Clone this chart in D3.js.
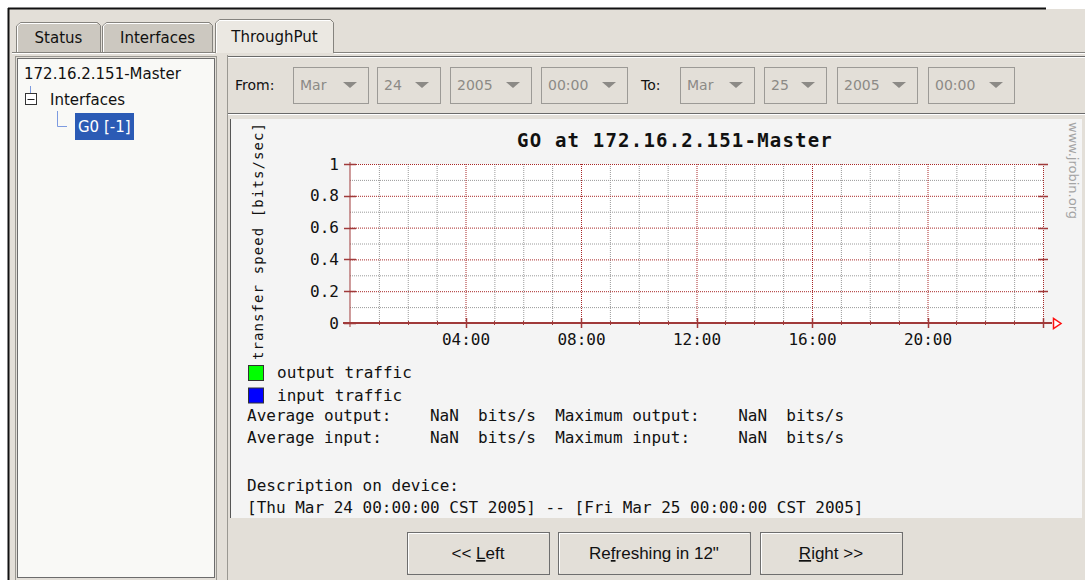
<!DOCTYPE html>
<html>
<head>
<meta charset="utf-8">
<script src="https://cdn.jsdelivr.net/npm/d3@7"></script>
<style>
  body { margin: 0; background: #fff; }
</style>
</head>
<body>
<div id="chart"></div>
<script>
// ---- data ----
var tabNames = ['Status', 'Interfaces', 'ThroughPut'];
var treeRoot = '172.16.2.151-Master';
var treeGroup = 'Interfaces';
var treeLeaf = 'G0 [-1]';
var fromFields = ['Mar', '24', '2005', '00:00'];
var toFields = ['Mar', '25', '2005', '00:00'];
var timeStart = new Date(2005, 2, 24, 0, 0);
var timeEnd = new Date(2005, 2, 25, 0, 0);
var xTickHours = [4, 8, 12, 16, 20];
var yTicks = [0, 0.2, 0.4, 0.6, 0.8, 1];
var chartTitle = 'GO at 172.16.2.151-Master';
var yLabel = 'transfer speed [bits/sec]';
// no samples were collected, every value is NaN
var outputTraffic = [];
var inputTraffic = [];
var legendNames = ['output traffic', 'input traffic'];
var legendColors = ['#00ff00', '#0000ff'];
var buttonLabels = [['<< ', 'L', 'eft'], ['Re', 'f', 'reshing in 12"'], ['', 'R', 'ight >>']];

var W = 1085, H = 580;
var bg = '#e3dfd8';
var mono = "'DejaVu Sans Mono', monospace";
var sans = "'DejaVu Sans', sans-serif";

var svg = d3.select('#chart')
    .append('svg')
    .attr('width', W)
    .attr('height', H)
    .style('display', 'block');

svg.append('rect').attr('width', W).attr('height', H).attr('fill', '#fff');
svg.append('rect').attr('x', 9).attr('y', 9).attr('width', W - 9).attr('height', H - 9).attr('fill', bg);

// window frame
svg.append('line').attr('x1', 8).attr('y1', 8.5).attr('x2', 1046).attr('y2', 8.5)
    .attr('stroke', '#111').attr('stroke-width', 2);
svg.append('line').attr('x1', 8.5).attr('y1', 8).attr('x2', 8.5).attr('y2', H)
    .attr('stroke', '#111').attr('stroke-width', 2);

// tabs
var tabX = [16, 102, 215], tabW = [85, 111, 119];
var selected = 2;
var tabs = svg.append('g');
tabNames.forEach(function(name, i) {
    var x0 = tabX[i], x1 = tabX[i] + tabW[i];
    var top = i === selected ? 19 : 22;
    var bottom = 53;
    tabs.append('path')
        .attr('d', 'M' + (x0 + 0.5) + ',' + bottom + 'L' + (x0 + 0.5) + ',' + (top + 4) +
            'L' + (x0 + 4.5) + ',' + (top + 0.5) + 'L' + (x1 - 3.5) + ',' + (top + 0.5) +
            'L' + (x1 - 0.5) + ',' + (top + 3.5) + 'L' + (x1 - 0.5) + ',' + bottom)
        .attr('fill', i === selected ? '#ebe8e2' : '#ccc8c0')
        .attr('stroke', '#85837e');
    tabs.append('path')
        .attr('d', 'M' + (x0 + 1.5) + ',' + bottom + 'L' + (x0 + 1.5) + ',' + (top + 4) +
            'L' + (x0 + 4.5) + ',' + (top + 1.5) + 'L' + (x1 - 4) + ',' + (top + 1.5))
        .attr('fill', 'none')
        .attr('stroke', '#fff');
    tabs.append('text')
        .attr('x', (x0 + x1) / 2)
        .attr('y', i === selected ? 42 : 43)
        .attr('text-anchor', 'middle')
        .attr('font-family', sans)
        .attr('font-size', 15)
        .attr('fill', '#111')
        .text(name);
});
svg.append('line').attr('x1', 12).attr('y1', 52.5).attr('x2', 215).attr('y2', 52.5).attr('stroke', '#85837e');
svg.append('line').attr('x1', 334).attr('y1', 52.5).attr('x2', W).attr('y2', 52.5).attr('stroke', '#85837e');
svg.append('line').attr('x1', 12).attr('y1', 53.5).attr('x2', 215).attr('y2', 53.5).attr('stroke', '#fff');
svg.append('line').attr('x1', 334).attr('y1', 53.5).attr('x2', W).attr('y2', 53.5).attr('stroke', '#fff');

// tree panel
var tree = svg.append('g');
tree.append('rect').attr('x', 15.5).attr('y', 56.5).attr('width', 201).attr('height', 540)
    .attr('fill', 'none').attr('stroke', '#9a9892');
tree.append('rect').attr('x', 17.5).attr('y', 58.5).attr('width', 197).attr('height', 519)
    .attr('fill', '#f9f9f6').attr('stroke', '#6c6c6c');
tree.append('text').attr('x', 24).attr('y', 79).attr('font-family', sans).attr('font-size', 15)
    .attr('fill', '#111').text(treeRoot);
tree.append('line').attr('x1', 30.5).attr('y1', 86).attr('x2', 30.5).attr('y2', 93)
    .attr('stroke', '#7d9be0');
tree.append('rect').attr('x', 25.5).attr('y', 93.5).attr('width', 11).attr('height', 11)
    .attr('fill', '#fff').attr('stroke', '#333');
tree.append('line').attr('x1', 27.5).attr('y1', 99.5).attr('x2', 34.5).attr('y2', 99.5)
    .attr('stroke', '#222');
tree.append('text').attr('x', 50).attr('y', 105).attr('font-family', sans).attr('font-size', 15)
    .attr('fill', '#111').text(treeGroup);
tree.append('path').attr('d', 'M57.5,111V126.5H67').attr('fill', 'none').attr('stroke', '#7d9be0');
tree.append('rect').attr('x', 75).attr('y', 113).attr('width', 59).attr('height', 27)
    .attr('fill', '#2b5bb5');
tree.append('text').attr('x', 78).attr('y', 132).attr('font-family', sans).attr('font-size', 15)
    .attr('fill', '#fff').text(treeLeaf);

// right side: date bar
svg.append('line').attr('x1', 227.5).attr('y1', 55).attr('x2', 227.5).attr('y2', H).attr('stroke', '#9a9892');
svg.append('line').attr('x1', 228).attr('y1', 56.5).attr('x2', W).attr('y2', 56.5).attr('stroke', '#6a6a6a');
svg.append('line').attr('x1', 228).attr('y1', 57.5).attr('x2', W).attr('y2', 57.5).attr('stroke', '#fff');
svg.append('line').attr('x1', 228).attr('y1', 113.5).attr('x2', W).attr('y2', 113.5).attr('stroke', '#6a6a6a');
svg.append('line').attr('x1', 228).attr('y1', 114.5).attr('x2', W).attr('y2', 114.5).attr('stroke', '#fff');

var dateBar = svg.append('g').attr('font-family', sans).attr('font-size', 14);
dateBar.append('text').attr('x', 235).attr('y', 90).attr('fill', '#111').text('From:');
dateBar.append('text').attr('x', 641).attr('y', 90).attr('fill', '#111').text('To:');

var fromBoxes = [[293, 368], [377, 440], [450, 531], [541, 627]];
var toBoxes = [[680, 754], [764, 826], [837, 917], [928, 1014]];
function drawCombos(fields, boxes) {
    fields.forEach(function(f, i) {
        var b = boxes[i];
        dateBar.append('rect').attr('x', b[0] + 0.5).attr('y', 67.5).attr('width', b[1] - b[0])
            .attr('height', 36).attr('fill', bg).attr('stroke', '#9c9a96');
        dateBar.append('text').attr('x', b[0] + 7).attr('y', 90).attr('fill', '#8c8a86').text(f);
        var cx = b[1] - 18;
        dateBar.append('path').attr('d', 'M' + (cx - 7) + ',82L' + (cx + 7) + ',82L' + cx + ',88Z')
            .attr('fill', '#8c8a86');
    });
}
drawCombos(fromFields, fromBoxes);
drawCombos(toFields, toBoxes);

// chart panel
svg.append('rect').attr('x', 230).attr('y', 119).attr('width', 852).attr('height', 399).attr('fill', '#f4f4f4');
svg.append('line').attr('x1', 230.5).attr('y1', 119).attr('x2', 230.5).attr('y2', 518).attr('stroke', '#555');

var x = d3.scaleTime().domain([timeStart, timeEnd]).range([350, 1043]);
var y = d3.scaleLinear().domain([0, 1]).range([323, 164]);
var plotH = y(0) - y(1);

var chart = svg.append('g');
chart.append('rect').attr('x', x.range()[0]).attr('y', y(1)).attr('width', x.range()[1] - x.range()[0])
    .attr('height', plotH).attr('fill', '#fff');

var isMajorHour = function(d) { return d.getHours() % 4 === 0; };
var hours = x.ticks(d3.timeHour.every(1));
var minorHours = hours.filter(function(d) { return !isMajorHour(d); });
var majorHours = hours.filter(function(d) { return isMajorHour(d) && +d !== +timeStart; });
var minorY = d3.range(1, 10, 2).map(function(i) { return i / 10; });
var majorY = yTicks.filter(function(d) { return d > 0; });

function grid(g, color) {
    g.select('.domain').remove();
    g.selectAll('line').attr('stroke', color).attr('stroke-dasharray', '1,1');
}

chart.append('g')
    .attr('transform', 'translate(0,' + y(0) + ')')
    .call(d3.axisBottom(x).tickValues(minorHours).tickSize(-plotH).tickFormat(''))
    .call(grid, '#9a9a9a');
chart.append('g')
    .attr('transform', 'translate(' + x.range()[0] + ',0)')
    .call(d3.axisLeft(y).tickValues(minorY).tickSize(-(x.range()[1] - x.range()[0])).tickFormat(''))
    .call(grid, '#9a9a9a');
chart.append('g')
    .attr('transform', 'translate(0,' + y(0) + ')')
    .call(d3.axisBottom(x).tickValues(majorHours).tickSize(-plotH).tickFormat(''))
    .call(grid, '#a82828');
chart.append('g')
    .attr('transform', 'translate(' + x.range()[0] + ',0)')
    .call(d3.axisLeft(y).tickValues(majorY).tickSize(-(x.range()[1] - x.range()[0])).tickFormat(''))
    .call(grid, '#a82828');

// series (empty: NaN everywhere)
var line = d3.line()
    .defined(function(d) { return !isNaN(d.value); })
    .x(function(d) { return x(d.time); })
    .y(function(d) { return y(d.value); });
[outputTraffic, inputTraffic].forEach(function(series, i) {
    chart.append('path').datum(series).attr('d', line).attr('fill', 'none')
        .attr('stroke', legendColors[i]).attr('stroke-width', 1);
});

// axes
var axisColor = '#a03a3a';
chart.append('line').attr('x1', 343).attr('y1', y(0)).attr('x2', 1052).attr('y2', y(0))
    .attr('stroke', axisColor).attr('stroke-width', 2);
chart.append('line').attr('x1', x.range()[0]).attr('y1', y(1) - 2).attr('x2', x.range()[0]).attr('y2', y(0) + 4)
    .attr('stroke', axisColor);
chart.append('path').attr('d', 'M1053.5,318.5V328.5L1061,323.5Z')
    .attr('fill', '#fff').attr('stroke', '#ff1010').attr('stroke-width', 1.5);

// cross ticks on the axes
chart.append('g').selectAll('line')
    .data(majorHours)
    .join('line')
    .attr('x1', function(d) { return Math.round(x(d)) + 0.5; })
    .attr('x2', function(d) { return Math.round(x(d)) + 0.5; })
    .attr('y1', y(0) - 5).attr('y2', y(0) + 5)
    .attr('stroke', axisColor).attr('stroke-width', 1.5);
chart.append('g').selectAll('line')
    .data(minorHours)
    .join('line')
    .attr('x1', function(d) { return Math.round(x(d)) + 0.5; })
    .attr('x2', function(d) { return Math.round(x(d)) + 0.5; })
    .attr('y1', y(0) - 2).attr('y2', y(0) + 2)
    .attr('stroke', axisColor);
chart.append('g').selectAll('line')
    .data(yTicks)
    .join('line')
    .attr('x1', 344).attr('x2', 356)
    .attr('y1', function(d) { return Math.round(y(d)) + 0.5; })
    .attr('y2', function(d) { return Math.round(y(d)) + 0.5; })
    .attr('stroke', axisColor).attr('stroke-width', 1.5);
chart.append('g').selectAll('line')
    .data(majorY)
    .join('line')
    .attr('x1', x.range()[1] - 5).attr('x2', x.range()[1] + 5)
    .attr('y1', function(d) { return Math.round(y(d)) + 0.5; })
    .attr('y2', function(d) { return Math.round(y(d)) + 0.5; })
    .attr('stroke', axisColor).attr('stroke-width', 1.5);

// tick labels
var xLabels = chart.append('g')
    .attr('transform', 'translate(0,' + y(0) + ')')
    .call(d3.axisBottom(x)
        .tickValues(xTickHours.map(function(h) { return d3.timeHour.offset(timeStart, h); }))
        .tickFormat(d3.timeFormat('%H:%M'))
        .tickSize(0));
xLabels.select('.domain').remove();
xLabels.selectAll('text')
    .attr('y', 22).attr('dy', null)
    .attr('font-family', mono).attr('font-size', 16).attr('fill', '#111');

var yLabels = chart.append('g')
    .attr('transform', 'translate(' + x.range()[0] + ',0)')
    .call(d3.axisLeft(y).tickValues(yTicks).tickFormat(function(d) { return String(d); })
        .tickSize(0).tickPadding(11));
yLabels.select('.domain').remove();
yLabels.selectAll('text')
    .attr('font-family', mono).attr('font-size', 16).attr('fill', '#111');

// title, axis label, watermark
chart.append('text').attr('x', 675).attr('y', 147).attr('text-anchor', 'middle')
    .attr('font-family', mono).attr('font-size', 19).attr('font-weight', 'bold')
    .attr('letter-spacing', 1.2).attr('fill', '#111').text(chartTitle);
chart.append('text').attr('transform', 'translate(263,241) rotate(-90)')
    .attr('text-anchor', 'middle').attr('font-family', mono).attr('font-size', 14)
    .attr('letter-spacing', 1.1).attr('fill', '#111').text(yLabel);
chart.append('text').attr('transform', 'translate(1069,122) rotate(90)')
    .attr('font-family', sans).attr('font-size', 13).attr('fill', '#a4a4a4').text('www.jrobin.org');

// legend
var legend = chart.append('g').attr('font-family', mono).attr('font-size', 16).attr('fill', '#111');
legendNames.forEach(function(name, i) {
    var top = 365 + i * 22.5;
    legend.append('rect').attr('x', 248.5).attr('y', top + 0.5).attr('width', 15).attr('height', 15)
        .attr('fill', legendColors[i]).attr('stroke', '#333');
    legend.append('text').attr('x', 277).attr('y', top + 13).text(name);
});

// statistics
var fmt = function(v) { return (v == null || isNaN(v)) ? 'NaN' : d3.format('.2f')(v); };
var val = function(a) { return a.map(function(d) { return d.value; }); };
var statRows = [
    ['Average output:', fmt(d3.mean(val(outputTraffic))), 'Maximum output:', fmt(d3.max(val(outputTraffic)))],
    ['Average input:', fmt(d3.mean(val(inputTraffic))), 'Maximum input:', fmt(d3.max(val(inputTraffic)))]
];
var cw = 9.63;
var cols = [0, 19, 24, 32, 51, 56];
statRows.forEach(function(r, i) {
    var cells = [r[0], r[1], 'bits/s', r[2], r[3], 'bits/s'];
    cells.forEach(function(c, j) {
        legend.append('text').attr('x', 247 + cols[j] * cw).attr('y', 421 + i * 22).text(c);
    });
});

var stamp = d3.timeFormat('[%a %b %d %H:%M:%S CST %Y]');
legend.append('text').attr('x', 247).attr('y', 491).text('Description on device:');
legend.append('text').attr('x', 247).attr('y', 513).text(stamp(timeStart) + ' -- ' + stamp(timeEnd));

// buttons
var btnBoxes = [[407, 549], [558, 750], [760, 902]];
var btns = svg.append('g').attr('font-family', "'Liberation Sans', Arial, sans-serif").attr('font-size', 17);
buttonLabels.forEach(function(parts, i) {
    var b = btnBoxes[i];
    btns.append('rect').attr('x', b[0] + 0.5).attr('y', 532.5).attr('width', b[1] - b[0]).attr('height', 42)
        .attr('fill', bg).attr('stroke', '#6e6e6e');
    btns.append('path').attr('d', 'M' + (b[0] + 1.5) + ',573V533.5H' + (b[1] - 1))
        .attr('fill', 'none').attr('stroke', '#fff');
    var t = btns.append('text').attr('x', (b[0] + b[1]) / 2).attr('y', 559)
        .attr('text-anchor', 'middle').attr('fill', '#111');
    t.append('tspan').text(parts[0]);
    t.append('tspan').attr('text-decoration', 'underline').text(parts[1]);
    t.append('tspan').text(parts[2]);
});
</script>
</body>
</html>
